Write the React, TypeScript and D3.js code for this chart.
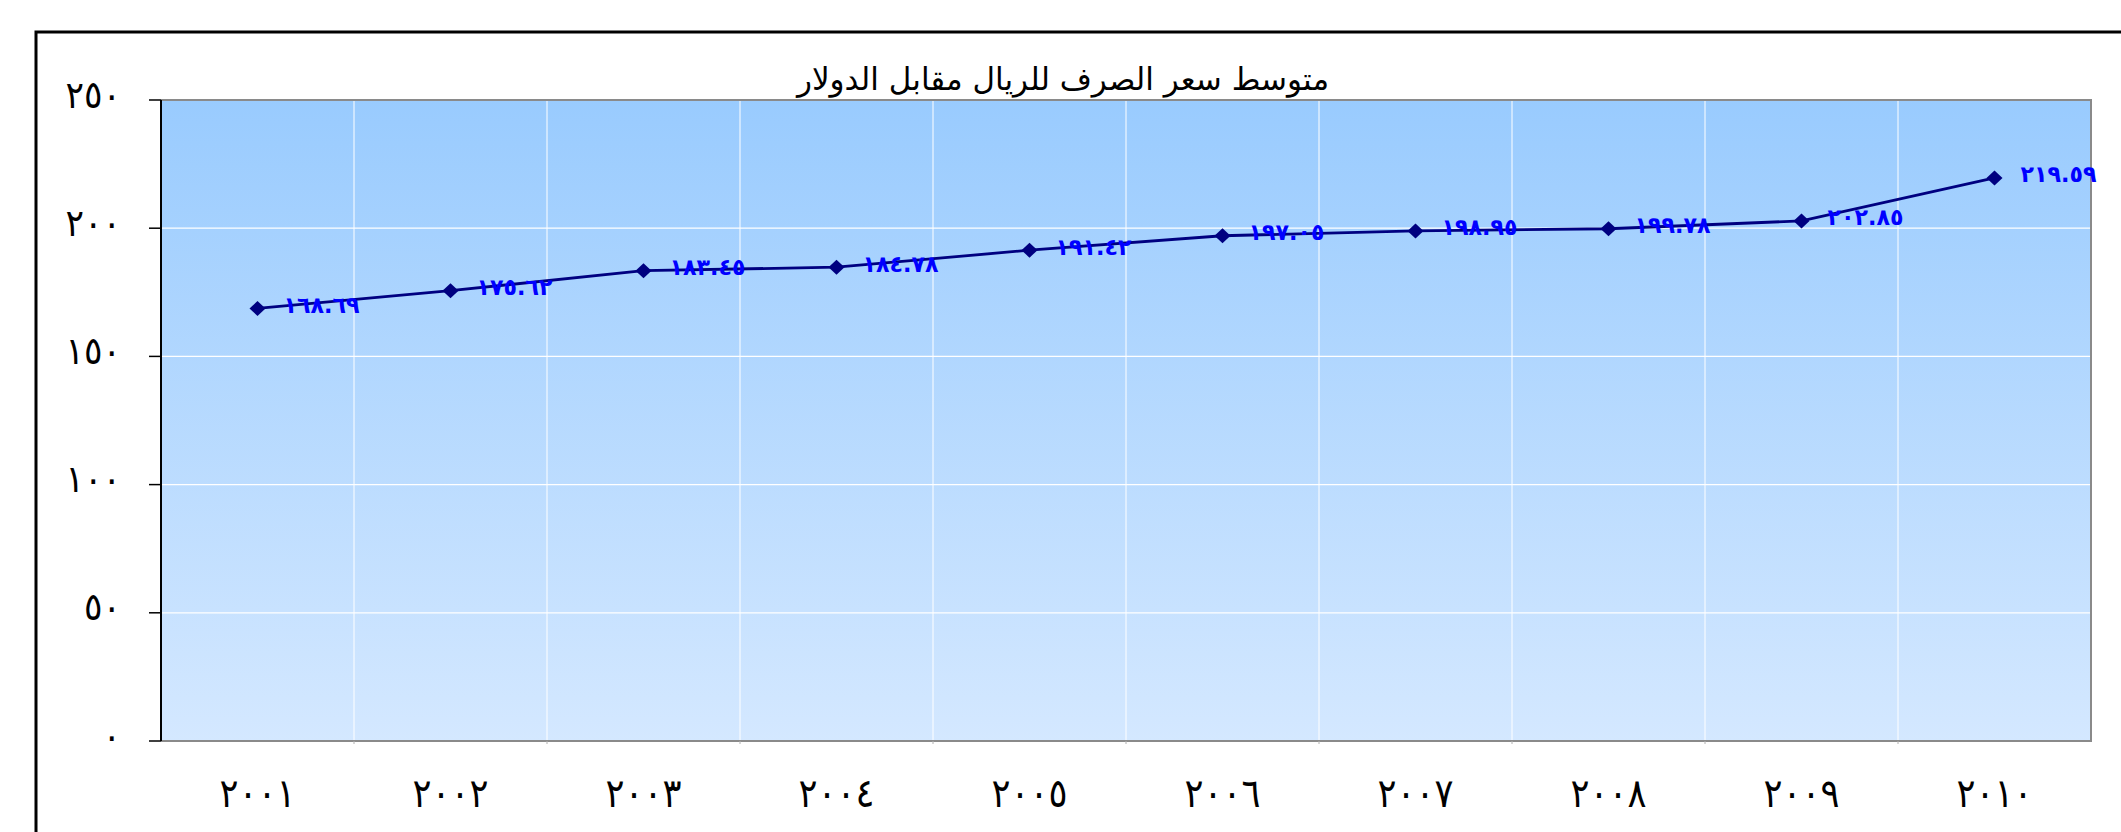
import React, { useEffect } from 'react'
import * as d3 from 'd3'

// data
const years = ['2001', '2002', '2003', '2004', '2005', '2006', '2007', '2008', '2009', '2010']
const rates = [168.69, 175.62, 183.45, 184.78, 191.42, 197.05, 198.95, 199.78, 202.85, 219.59]
const yTicks = [0, 50, 100, 150, 200, 250]
const title = 'متوسط سعر الصرف للريال مقابل الدولار'

const arabicDigits = '٠١٢٣٤٥٦٧٨٩'
const toArabic = (s: string) => s.replace(/[0-9]/g, (d) => arabicDigits[+d])

const W = 2121
const H = 832
const left = 161
const right = 2091
const top = 100
const bottom = 741
const fontFam = '"DejaVu Sans", sans-serif'

export default function App() {
    useEffect(() => {
        document.body.style.margin = '0'
    }, [])

    const x = d3.scaleBand<string>().domain(years).range([left, right]).padding(0)
    const y = d3.scaleLinear().domain([0, 250]).range([bottom, top])
    const cx = (yr: string) => x(yr)! + x.bandwidth() / 2

    const points = years.map((yr, i) => ({ yr, v: rates[i] }))
    const line = d3.line<{ yr: string; v: number }>()
        .x((d) => cx(d.yr))
        .y((d) => y(d.v))

    // rhombus marker like the excel one
    const diamond = 'M0,-7.5L8,0L0,7.5L-8,0Z'

    const bounds = years.map((yr) => x(yr)!).concat([right])

    return (
        <svg width={W} height={H} style={{ display: 'block' }}>
            <defs>
                <linearGradient id="bg" x1="0" y1="0" x2="0" y2="1">
                    <stop offset="0%" stopColor="#99CBFE" />
                    <stop offset="100%" stopColor="#D4E8FF" />
                </linearGradient>
            </defs>
            <rect x={0} y={0} width={W} height={H} fill="#fff" />
            {/* outer chart border */}
            <rect x={36} y={32} width={W} height={H} fill="none" stroke="#000" strokeWidth={3} />

            {/* plot area */}
            <rect x={left} y={top} width={right - left} height={bottom - top} fill="url(#bg)" />

            {/* grid */}
            {yTicks.filter((t) => t > 0 && t < 250).map((t) => (
                <line key={'h' + t} x1={left} x2={right} y1={y(t)} y2={y(t)} stroke="#fff" strokeWidth={1.3} />
            ))}
            {bounds.slice(1, -1).map((bx, i) => (
                <line key={'v' + i} x1={bx} x2={bx} y1={top} y2={bottom + 3} stroke="#fff" strokeWidth={1} />
            ))}

            {/* plot border */}
            <path d={`M${left},${top}H${right}V${bottom}H${left}`} fill="none" stroke="#8a8a8a" strokeWidth={2} />
            {bounds.slice(1, -1).map((bx, i) => (
                <line key={'xt' + i} x1={bx} x2={bx} y1={bottom} y2={bottom + 3} stroke="#b0b0b0" strokeWidth={1} />
            ))}

            {/* y axis */}
            <line x1={left} x2={left} y1={top} y2={bottom} stroke="#000" strokeWidth={2} />
            {yTicks.map((t) => {
                const lbl = toArabic(String(t))
                return (
                    <g key={'yt' + t}>
                        <line x1={149} x2={left} y1={y(t)} y2={y(t)} stroke="#000" strokeWidth={1.5} />
                        <text x={121} y={y(t) - 3} textAnchor="end" dominantBaseline="middle"
                            fontFamily={fontFam} fontSize={38} fill="#000"
                            textLength={lbl.length * 18.5} lengthAdjust="spacingAndGlyphs">
                            {lbl}
                        </text>
                    </g>
                )
            })}

            {/* x labels */}
            {years.map((yr) => (
                <text key={'xl' + yr} x={cx(yr)} y={796} textAnchor="middle"
                    dominantBaseline="middle" fontFamily={fontFam} fontSize={40} fill="#000"
                    textLength={76} lengthAdjust="spacingAndGlyphs">
                    {toArabic(yr)}
                </text>
            ))}

            {/* series */}
            <path d={line(points)!} fill="none" stroke="#000080" strokeWidth={2.8} />
            {points.map((p) => (
                <path key={'m' + p.yr} d={diamond}
                    transform={`translate(${cx(p.yr)},${y(p.v)})`} fill="#000080" />
            ))}
            {points.map((p) => (
                <text key={'dl' + p.yr} x={cx(p.yr) + 26} y={y(p.v) - 2}
                    dominantBaseline="middle" fontFamily={fontFam} fontSize={23} fontWeight="bold"
                    fill="#0000FF" direction="ltr" textLength={76} lengthAdjust="spacingAndGlyphs">
                    {toArabic(p.v.toFixed(2))}
                </text>
            ))}

            {/* title */}
            <text x={1063} y={90} textAnchor="middle"
                fontFamily={fontFam} fontSize={31} fill="#000" direction="rtl">
                {title}
            </text>
        </svg>
    )
}
